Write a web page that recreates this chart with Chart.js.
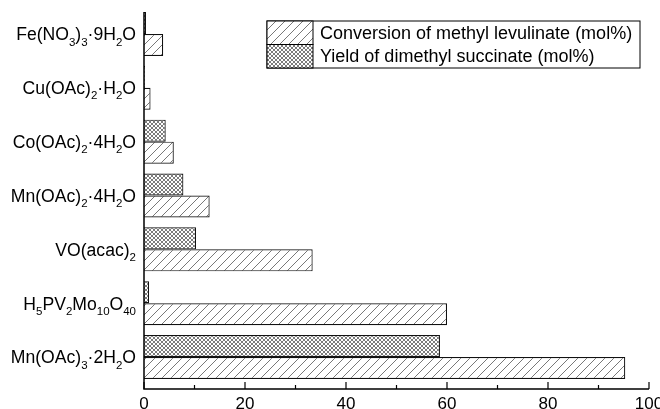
<!DOCTYPE html>
<html>
<head>
<meta charset="utf-8">
<script src="https://cdn.jsdelivr.net/npm/chart.js@4.4.1/dist/chart.umd.min.js"></script>
<style>
  html, body { margin: 0; padding: 0; background: #fff; }
  #wrap { width: 660px; height: 409px; position: relative; }
</style>
</head>
<body>
<div id="wrap"><canvas id="grafico"></canvas></div>
<script>
// categorias de arriba hacia abajo; _{..} = subindice
const categorias = [
    'Fe(NO_{3})_{3}·9H_{2}O',
    'Cu(OAc)_{2}·H_{2}O',
    'Co(OAc)_{2}·4H_{2}O',
    'Mn(OAc)_{2}·4H_{2}O',
    'VO(acac)_{2}',
    'H_{5}PV_{2}Mo_{10}O_{40}',
    'Mn(OAc)_{3}·2H_{2}O'
];
const rendimiento = [0.4, 0.2, 4.3, 7.8, 10.3, 1.0, 58.6];
const conversion = [3.8, 1.3, 5.9, 13.0, 33.4, 60.0, 95.3];
const ticksX = [0, 20, 40, 60, 80, 100];
const etiquetaConversion = 'Conversion of methyl levulinate (mol%)';
const etiquetaRendimiento = 'Yield of dimethyl succinate (mol%)';

const FUENTE = '"Liberation Sans", Arial, sans-serif';
const MARGEN_EJE = 5; // el marco de ejes sobresale del area de barras

function patronRayado() {
    const c = document.createElement('canvas');
    c.width = 9; c.height = 9;
    const g = c.getContext('2d');
    g.fillStyle = '#fff';
    g.fillRect(0, 0, 9, 9);
    g.strokeStyle = '#555';
    g.lineWidth = 0.8;
    g.beginPath();
    g.moveTo(-1, 10); g.lineTo(10, -1);
    g.stroke();
    return g.createPattern(c, 'repeat');
}

function patronCuadriculado() {
    const c = document.createElement('canvas');
    c.width = 4; c.height = 4;
    const g = c.getContext('2d');
    g.fillStyle = '#fff';
    g.fillRect(0, 0, 4, 4);
    g.strokeStyle = '#444';
    g.lineWidth = 0.7;
    g.beginPath();
    g.moveTo(0, 4); g.lineTo(4, 0);
    g.moveTo(0, 0); g.lineTo(4, 4);
    g.stroke();
    return g.createPattern(c, 'repeat');
}

// separa "Mn(OAc)_{3}" en trozos normales / subindice
function trozos(texto) {
    const partes = [];
    const re = /_\{(.*?)\}/g;
    let ultimo = 0, m;
    while ((m = re.exec(texto)) !== null) {
        if (m.index > ultimo) partes.push({ t: texto.slice(ultimo, m.index), sub: false });
        partes.push({ t: m[1], sub: true });
        ultimo = re.lastIndex;
    }
    if (ultimo < texto.length) partes.push({ t: texto.slice(ultimo), sub: false });
    return partes;
}

function dibujarFormula(ctx, texto, xDer, yCentro, tam, tamSub) {
    const partes = trozos(texto);
    let ancho = 0;
    partes.forEach(p => {
        ctx.font = (p.sub ? tamSub : tam) + 'px ' + FUENTE;
        p.w = ctx.measureText(p.t).width;
        ancho += p.w;
    });
    let x = xDer - ancho;
    const base = yCentro + tam * 0.36;
    ctx.textAlign = 'left';
    ctx.textBaseline = 'alphabetic';
    partes.forEach(p => {
        ctx.font = (p.sub ? tamSub : tam) + 'px ' + FUENTE;
        ctx.fillText(p.t, x, p.sub ? base + tam * 0.3 : base);
        x += p.w;
    });
}

const pluginEjes = {
    id: 'ejes',
    afterDraw(chart) {
        const ctx = chart.ctx;
        const area = chart.chartArea;
        const sx = chart.scales.x;
        const sy = chart.scales.y;
        const arriba = area.top + MARGEN_EJE;
        const abajo = area.bottom + MARGEN_EJE;
        ctx.save();
        ctx.strokeStyle = '#000';
        ctx.lineWidth = 1.5;
        ctx.beginPath();
        ctx.moveTo(area.left, arriba);
        ctx.lineTo(area.left, abajo);
        ctx.lineTo(area.right, abajo);
        ctx.stroke();

        // ticks hacia adentro, mayores cada 20 y menores cada 10
        ctx.lineWidth = 1.2;
        sx.ticks.forEach(t => {
            const px = sx.getPixelForValue(t.value);
            const largo = t.value % 20 === 0 ? 7 : 4;
            ctx.beginPath();
            ctx.moveTo(px, abajo);
            ctx.lineTo(px, abajo - largo);
            ctx.stroke();
        });

        // etiquetas del eje y con subindices
        ctx.fillStyle = '#000';
        chart.data.labels.forEach((lab, i) => {
            dibujarFormula(ctx, lab, 136, sy.getPixelForValue(i), 17.6, 11.5);
        });

        // leyenda con recuadro
        const lx = 267, ly = 21, lw = 373, fila = 23.5, sw = 46;
        ctx.lineWidth = 1;
        ctx.strokeStyle = '#000';
        ctx.strokeRect(lx, ly, lw, fila * 2);
        const orden = [1, 0];
        orden.forEach((di, k) => {
            const ds = chart.data.datasets[di];
            const y0 = ly + k * fila;
            ctx.fillStyle = ds.backgroundColor;
            ctx.fillRect(lx, y0, sw, fila);
            ctx.strokeRect(lx, y0, sw, fila);
            ctx.fillStyle = '#000';
            ctx.font = '18px ' + FUENTE;
            ctx.textAlign = 'left';
            ctx.textBaseline = 'middle';
            ctx.fillText(ds.label, lx + 53, y0 + fila / 2 + 1);
        });
        ctx.restore();
    }
};

const rayado = patronRayado();
const cuadriculado = patronCuadriculado();

new Chart(document.getElementById('grafico'), {
    type: 'bar',
    data: {
        labels: categorias,
        datasets: [
            {
                label: etiquetaRendimiento,
                data: rendimiento,
                backgroundColor: cuadriculado,
                borderColor: '#111',
                borderWidth: 1.2,
                categoryPercentage: 0.817,
                barPercentage: 1.0
            },
            {
                label: etiquetaConversion,
                data: conversion,
                backgroundColor: rayado,
                borderColor: '#111',
                borderWidth: 1.2,
                categoryPercentage: 0.817,
                barPercentage: 1.0
            }
        ]
    },
    options: {
        indexAxis: 'y',
        responsive: true,
        maintainAspectRatio: false,
        animation: false,
        layout: { padding: { top: 7, right: 11, left: 0, bottom: 0 } },
        plugins: {
            legend: { display: false },
            tooltip: { enabled: false }
        },
        scales: {
            x: {
                min: 0,
                max: 100,
                afterFit: s => { s.height = 25; s.paddingRight = 0; s.paddingLeft = 0; },
                grid: { display: false, drawTicks: false },
                border: { display: false },
                ticks: {
                    stepSize: 10,
                    autoSkip: false,
                    maxRotation: 0,
                    padding: 10,
                    color: '#000',
                    font: { family: FUENTE, size: 17 },
                    callback: v => (ticksX.includes(v) ? String(v) : '')
                }
            },
            y: {
                afterFit: s => { s.width = 144; },
                grid: { display: false, drawTicks: false },
                border: { display: false },
                ticks: { display: false }
            }
        }
    },
    plugins: [pluginEjes]
});
</script>
</body>
</html>
